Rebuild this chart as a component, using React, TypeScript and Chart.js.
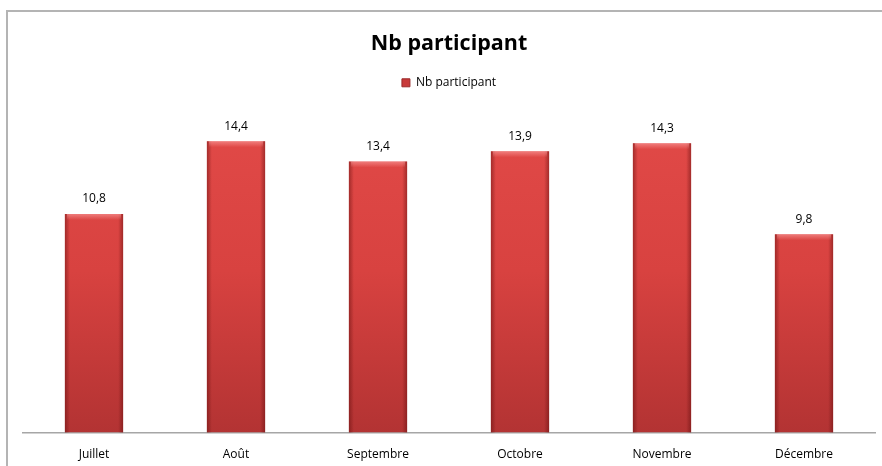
import React, { useEffect, useRef } from "react";
import { Chart, registerables } from "chart.js";

Chart.register(...registerables);

const categories = ["Juillet", "Août", "Septembre", "Octobre", "Novembre", "Décembre"];
const participants = [10.8, 14.4, 13.4, 13.9, 14.3, 9.8];
const seriesName = "Nb participant";
const chartTitle = "Nb participant";

const FONT = "'Open Sans', 'Lato', sans-serif";

const fmt = (v: number) => v.toFixed(1).replace(".", ",");

const legendSpacer = {
  id: "legendSpacer",
  beforeInit(chart: any) {
    const legend = chart.legend;
    const orig = legend.fit;
    legend.fit = function () {
      orig.bind(legend)();
      this.height += 10;
    };
  },
};

const bevelPlugin = {
  id: "bevel",
  afterDatasetsDraw(chart: any) {
    const ctx = chart.ctx;
    const meta = chart.getDatasetMeta(0);
    meta.data.forEach((bar: any, i: number) => {
      const { x, y, base, width } = bar.getProps(["x", "y", "base", "width"], true);
      const l = x - width / 2;
      const r = x + width / 2;
      ctx.save();
      let g = ctx.createLinearGradient(l, 0, l + 5, 0);
      g.addColorStop(0, "rgba(90,10,10,0.45)");
      g.addColorStop(1, "rgba(90,10,10,0)");
      ctx.fillStyle = g;
      ctx.fillRect(l, y, 5, base - y);
      g = ctx.createLinearGradient(r, 0, r - 5, 0);
      g.addColorStop(0, "rgba(90,10,10,0.45)");
      g.addColorStop(1, "rgba(90,10,10,0)");
      ctx.fillStyle = g;
      ctx.fillRect(r - 5, y, 5, base - y);
      g = ctx.createLinearGradient(0, y, 0, y + 6);
      g.addColorStop(0, "rgba(255,170,170,0.55)");
      g.addColorStop(1, "rgba(255,170,170,0)");
      ctx.fillStyle = g;
      ctx.fillRect(l + 2, y, width - 4, 6);
      ctx.fillStyle = "#000";
      ctx.font = `12px ${FONT}`;
      ctx.textAlign = "center";
      ctx.textBaseline = "middle";
      ctx.fillText(fmt(participants[i]), x, y - 15);
      ctx.restore();
    });
  },
};

export default function App() {
  const ref = useRef<HTMLCanvasElement>(null);
  useEffect(() => {
    const canvas = ref.current!;
    const chart = new Chart(canvas, {
      type: "bar",
      data: {
        labels: categories,
        datasets: [
          {
            label: seriesName,
            data: participants,
            backgroundColor: (c: any) => {
              const ch = c.chart;
              const area = ch.chartArea;
              if (!area) return "#d84040";
              const g = ch.ctx.createLinearGradient(0, area.top, 0, area.bottom);
              g.addColorStop(0, "#e24a48");
              g.addColorStop(0.5, "#d84240");
              g.addColorStop(1, "#b33333");
              return g;
            },
            borderWidth: 0,
            barPercentage: 0.41,
            categoryPercentage: 1,
          },
        ],
      },
      options: {
        animation: false,
        responsive: false,
        maintainAspectRatio: false,
        layout: { padding: { left: 15, right: 7, top: 0, bottom: 2 } },
        plugins: {
          title: {
            display: true,
            text: chartTitle,
            color: "#000",
            font: { family: FONT, size: 21.5, weight: "bold" },
            padding: { top: 19, bottom: 10 },
          },
          legend: {
            display: true,
            labels: {
              color: "#000",
              font: { family: FONT, size: 12 },
              boxWidth: 8,
              boxHeight: 8,
              padding: 10,
              generateLabels: () => [
                {
                  text: seriesName,
                  fillStyle: "#c83a3a",
                  strokeStyle: "#9a2a2a",
                  lineWidth: 1,
                  hidden: false,
                  datasetIndex: 0,
                },
              ],
            },
          },
          tooltip: { enabled: false },
        },
        scales: {
          x: {
            grid: { display: false, drawTicks: false },
            border: { display: true, color: "#a6a6a6", width: 1.5 },
            ticks: { color: "#000", font: { family: FONT, size: 12 }, padding: 15 },
          },
          y: {
            display: false,
            min: 0,
            max: 16,
          },
        },
      },
      plugins: [legendSpacer, bevelPlugin],
    });
    return () => chart.destroy();
  }, []);

  return (
    <div
      style={{
        position: "absolute",
        left: 6,
        top: 10,
        width: 876,
        height: 456,
        borderLeft: "2px solid #b4b4b4",
        borderTop: "2px solid #b4b4b4",
        background: "#fff",
        boxSizing: "border-box",
        overflow: "hidden",
      }}
    >
      <canvas ref={ref} width={874} height={467} style={{ position: "absolute", left: 0, top: 0 }} />
    </div>
  );
}
